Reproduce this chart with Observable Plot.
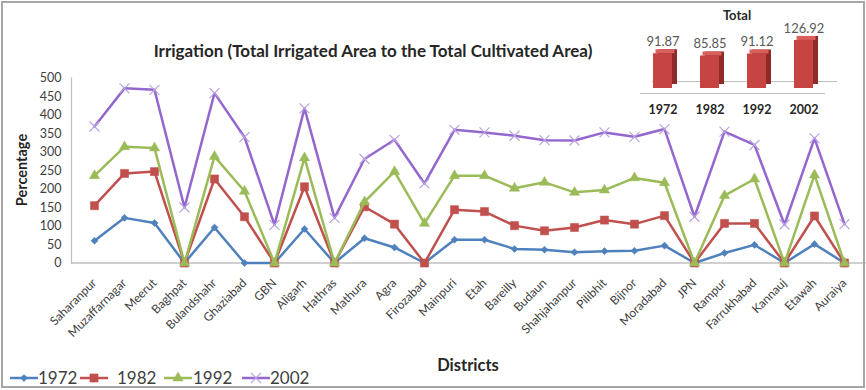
<!DOCTYPE html>
<html><head><meta charset="utf-8">
<script src="https://cdn.jsdelivr.net/npm/d3@7"></script>
<script src="https://cdn.jsdelivr.net/npm/@observablehq/plot@0.6"></script>
<style>
body{margin:0;background:#fff;}
#wrap{position:relative;width:866px;height:390px;overflow:hidden;font-family:Lato,"Open Sans",sans-serif;color:#404040;background:#fff;}
#wrap svg{position:absolute;}
.abs{position:absolute;white-space:nowrap;}
#border{position:absolute;left:1px;top:1px;width:864px;height:387px;border:2px solid #a6a6a6;box-sizing:border-box;pointer-events:none;}
</style>
</head><body>
<div id="wrap">
  <div id="main"></div>
  <div id="inset"></div>
  <div class="abs" style="left:0;width:746px;top:40px;text-align:center;font-weight:bold;font-size:17px;color:#262626;">Irrigation (Total Irrigated Area to the Total Cultivated Area)</div>
  <div class="abs" style="left:21px;top:170px;transform:translate(-50%,-50%) rotate(-90deg);font-weight:bold;font-size:14.5px;color:#262626;">Percentage</div>
  <div class="abs" style="left:468px;top:365px;transform:translate(-50%,-50%);font-weight:bold;font-size:16.5px;color:#262626;">Districts</div>
  <div class="abs" style="left:737px;top:15px;transform:translate(-50%,-50%);font-weight:bold;font-size:13px;color:#262626;">Total</div>
  <div id="legend"></div>
  <div id="border"></div>
</div>
<script>
// ---------- data ----------
const districts = ["Saharanpur","Muzaffarnagar","Meerut","Baghpat","Bulandshahr","Ghaziabad","GBN","Aligarh","Hathras","Mathura","Agra","Firozabad","Mainpuri","Etah","Bareilly","Budaun","Shahjahanpur","Pilibhit","Bijnor","Moradabad","JPN","Rampur","Farrukhabad","Kannauj","Etawah","Auraiya"];
const s1972 = [60,122,108,0,96,0,0,92,0,67,42,0,63,63,38,36,29,32,33,47,0,27,49,0,51,0];
const s1982 = [155,242,247,0,227,125,0,206,0,152,105,0,144,139,101,87,96,116,105,128,0,107,107,0,127,0];
const s1992 = [236,314,311,0,288,194,0,284,0,165,247,107,236,236,202,218,191,197,230,217,0,182,227,0,238,0];
const s2002 = [369,472,468,150,459,340,103,418,122,281,333,215,360,353,344,332,331,353,341,362,125,355,319,104,337,105];
const years = ["1972","1982","1992","2002"];
const yTicks = [0,50,100,150,200,250,300,350,400,450,500];
const totalYears = ["1972","1982","1992","2002"];
const totals = [91.87,85.85,91.12,126.92];

const seriesList = [s1972,s1982,s1992,s2002];
const colors = ["#4f81bd","#c0504d","#9bbb59","#9467cf"];
const markerStroke = ["#4f81bd","#c0504d","#9bbb59","#b9a3e0"];
const symbols = ["diamond2","square","triangle","times"];
const radii = [3.2,4.6,3.8,4.6];

const rows = years.map((y,k)=>districts.map((d,i)=>({district:d,year:y,value:seriesList[k][i]})));

const font = 'Lato, "Open Sans", sans-serif';
const seriesMarks = rows.flatMap((data,k)=>[
  Plot.line(data,{x:"district",y:"value",stroke:colors[k],strokeWidth:2.5}),
  Plot.dot(data,{x:"district",y:"value",symbol:()=>symbols[k],r:radii[k],
    fill: k===3 ? "none" : colors[k], stroke:markerStroke[k], strokeWidth: k===3 ? 1.2 : 0.5})
]);

const main = Plot.plot({
  width:866, height:390,
  marginLeft:71, marginRight:0, marginTop:77.5, marginBottom:127.5,
  x:{type:"point", domain:districts, padding:0.524},
  y:{domain:[0,500]},
  symbol:{type:"identity"},
  style:{fontFamily:font, background:"transparent", color:"#404040", overflow:"visible"},
  marks:[
    Plot.frame({anchor:"left", stroke:"#bfbfbf", strokeWidth:1.2}),
    Plot.ruleY([0],{stroke:"#bfbfbf", strokeWidth:1.5}),
    Plot.axisY({ticks:yTicks, tickSize:0, tickPadding:10, fontSize:12.5, label:null}),
    Plot.axisX({tickSize:0, tickPadding:18, tickRotate:-45, fontSize:12, label:null}),
    ...seriesMarks
  ]
});
main.style.left="0px"; main.style.top="0px";
document.getElementById("main").appendChild(main);

// ---------- inset "Total" 3D-style bars ----------
const tdata = totalYears.map((y,i)=>({year:y,value:totals[i]}));
const inset = Plot.plot({
  width:215, height:120,
  marginLeft:10, marginRight:20, marginTop:35, marginBottom:32,
  x:{domain:totalYears, paddingInner:0.596, paddingOuter:0.266, axis:null},
  y:{domain:[0,140], axis:null},
  style:{fontFamily:font, background:"transparent", color:"#262626", overflow:"visible"},
  marks:[
    Plot.ruleY([0],{stroke:"#bfbfbf", strokeWidth:1, dx:12, dy:-7}),
    Plot.barY(tdata,{x:"year",y:"value",fill:"#8e2a28",dx:5,dy:-4}),
    Plot.barY(tdata,{x:"year",y1:"value",y2:"value",insetTop:-4,dx:2.5,fill:"#d9605c"}),
    Plot.barY(tdata,{x:"year",y:"value",fill:"#c64441"}),
    Plot.ruleY([0],{stroke:"#bfbfbf", strokeWidth:1, dy:5}),
    Plot.text(tdata,{x:"year",y:"value",text:d=>d.value.toFixed(2),dy:-12,fontSize:13,fill:"#595959"}),
    Plot.axisX({tickSize:0, tickPadding:17, fontSize:12.5, fontWeight:"bold", label:null})
  ]
});
inset.style.left="630px"; inset.style.top="0px";
document.getElementById("inset").appendChild(inset);

// ---------- legend ----------
const legend = document.getElementById("legend");
const swX = [10,80,164,242], txX = [38,117,193,270];
years.forEach((y,k)=>{
  const sw = document.createElementNS("http://www.w3.org/2000/svg","svg");
  sw.setAttribute("width",28); sw.setAttribute("height",14);
  sw.style.left=swX[k]+"px"; sw.style.top="371px";
  const sym = d3.symbol(d3[{diamond2:"symbolDiamond2",square:"symbolSquare",triangle:"symbolTriangle",times:"symbolTimes"}[symbols[k]]], radii[k]*radii[k]*Math.PI)();
  sw.innerHTML = `<line x1="0" x2="28" y1="7" y2="7" stroke="${colors[k]}" stroke-width="2.5"/>`+
    `<path d="${sym}" transform="translate(14,7)" fill="${k===3?"none":colors[k]}" stroke="${markerStroke[k]}" stroke-width="${k===3?1.2:0.5}"/>`;
  legend.appendChild(sw);
  const t = document.createElement("div");
  t.className="abs"; t.textContent=y;
  t.style.left=txX[k]+"px"; t.style.top="367px"; t.style.fontSize="17px"; t.style.lineHeight="22px"; t.style.color="#404040";
  legend.appendChild(t);
});
</script>
</body></html>
